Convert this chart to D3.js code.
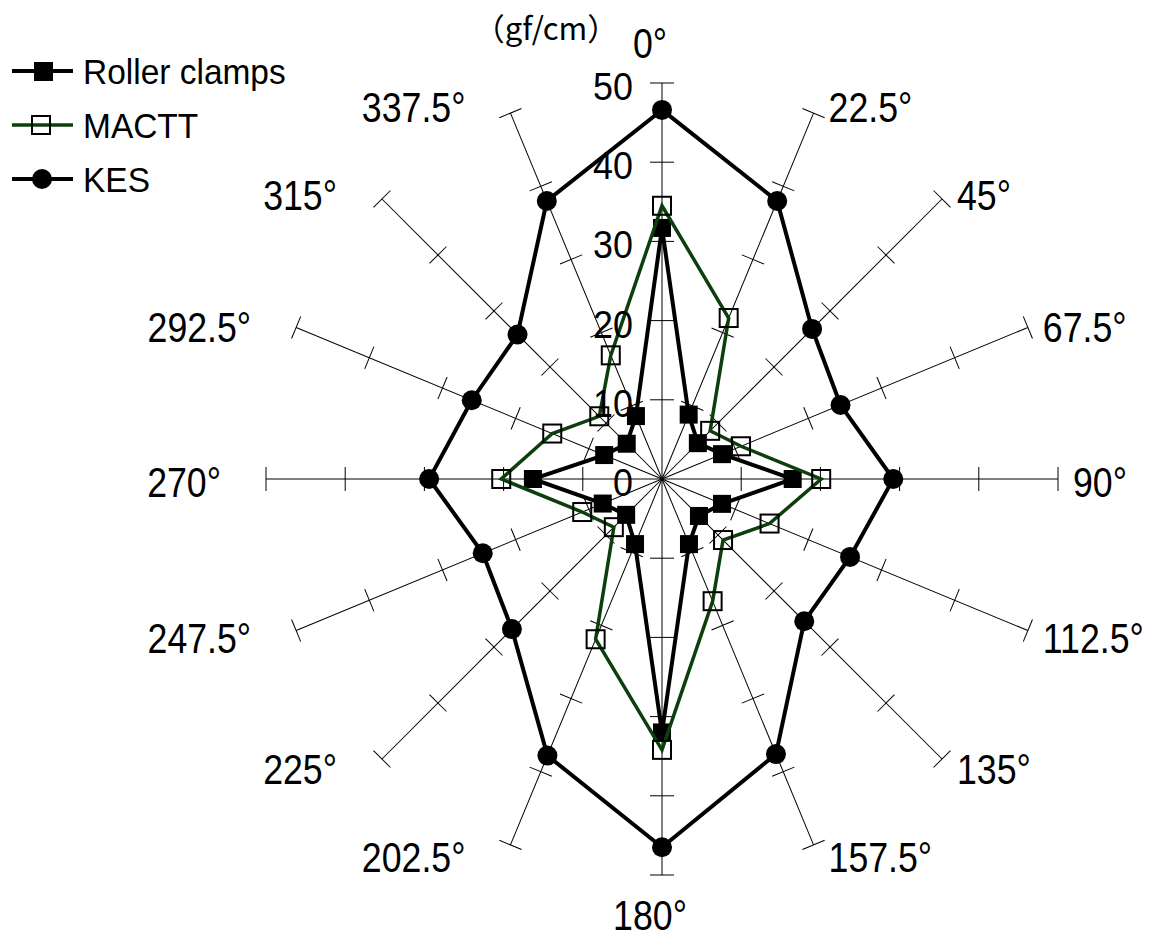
<!DOCTYPE html>
<html>
<head>
<meta charset="utf-8">
<script src="https://cdn.jsdelivr.net/npm/d3@7"></script>
<style>
  html, body { margin: 0; padding: 0; background: #fff; }
  svg text { font-family: "Liberation Sans", Arial, sans-serif; fill: #000; }
</style>
</head>
<body>
<svg id="chart" width="1161" height="938"></svg>
<script>
// Direction categories (degrees, clockwise from top)
const directions = ["0°", "22.5°", "45°", "67.5°", "90°", "112.5°", "135°", "157.5°",
                    "180°", "202.5°", "225°", "247.5°", "270°", "292.5°", "315°", "337.5°"];
// Series values (gf/cm)
const rollerClamps = [31.7, 8.8, 6.4, 8.2, 16.5, 8.2, 6.6, 8.9, 32.0, 8.9, 6.4, 8.1, 16.3, 7.9, 6.3, 8.6];
const mactt        = [34.5, 22.0, 8.6, 10.8, 20.1, 14.7, 10.9, 16.7, 34.2, 21.9, 8.6, 10.9, 20.3, 15.0, 11.2, 16.9];
const kes          = [46.6, 38.0, 26.8, 24.4, 29.2, 25.7, 25.4, 37.6, 46.5, 37.8, 26.8, 24.5, 29.4, 26.0, 25.8, 38.0];
// Radial tick values
const radialTicks = [0, 10, 20, 30, 40, 50];
const seriesNames = ["Roller clamps", "MACTT", "KES"];
const unitLabel = "（gf/cm）";

const svg = d3.select("#chart");
const cx = 662, cy = 479, R = 396;
const green = "#0d3f0d";

const r = d3.scaleLinear().domain([0, 50]).range([0, R]);
const angle = d3.scalePoint().domain(d3.range(directions.length + 1))
  .range([0, 2 * Math.PI]);
const a = i => angle(i);

const g = svg.append("g").attr("transform", `translate(${cx},${cy})`);

// Narrow text helper: places a label and squeezes it horizontally
function label(parent, x, y, txt, size, anchor, sx) {
  return parent.append("text")
    .attr("transform", `translate(${x},${y}) scale(${sx},1)`)
    .attr("dy", "0.36em").attr("text-anchor", anchor)
    .attr("font-size", size).text(txt);
}

// Spokes with perpendicular tick marks
const spokes = g.append("g");
directions.forEach((d, i) => {
  const th = a(i);
  const sg = spokes.append("g").attr("transform", `rotate(${th * 180 / Math.PI})`);
  sg.append("line")
    .attr("x1", 0).attr("y1", 0).attr("x2", 0).attr("y2", -r(50))
    .attr("stroke", "#000").attr("stroke-width", 1);
  sg.selectAll("line.tick").data(radialTicks.filter(t => t > 0)).enter()
    .append("line").attr("class", "tick")
    .attr("x1", -12).attr("x2", 12)
    .attr("y1", t => -r(t)).attr("y2", t => -r(t))
    .attr("stroke", "#000").attr("stroke-width", 1);
});

// Direction labels
directions.forEach((d, i) => {
  const th = a(i);
  const s = Math.sin(th), c = Math.cos(th);
  const ex = r(50) * s, ey = -r(50) * c;
  let x, y, anchor;
  if (Math.abs(s) < 0.01) {
    anchor = "middle";
    x = ex - 12;
    y = c > 0 ? ey - 40 : ey + 40;
  } else if (s > 0) {
    anchor = "start"; x = ex + 15; y = ey + 3 - 10 * c;
  } else {
    anchor = "end"; x = ex - 45; y = ey + 3 - 10 * c;
  }
  label(g, x, y, d, 42, anchor, 0.85);
});

// Series polygons
const radial = vals => d3.lineRadial()
  .angle((v, i) => a(i)).radius(v => r(v))
  .curve(d3.curveLinearClosed)(vals);
const pos = (v, i) => [r(v) * Math.sin(a(i)), -r(v) * Math.cos(a(i))];

// Roller clamps
g.append("path").attr("d", radial(rollerClamps))
  .attr("fill", "none").attr("stroke", "#000").attr("stroke-width", 4);
g.selectAll("rect.rc").data(rollerClamps).enter().append("rect").attr("class", "rc")
  .attr("x", (v, i) => pos(v, i)[0] - 9).attr("y", (v, i) => pos(v, i)[1] - 9)
  .attr("width", 18).attr("height", 18).attr("fill", "#000");

// MACTT
g.append("path").attr("d", radial(mactt))
  .attr("fill", "none").attr("stroke", green).attr("stroke-width", 3.5);
g.selectAll("rect.mt").data(mactt).enter().append("rect").attr("class", "mt")
  .attr("x", (v, i) => pos(v, i)[0] - 9).attr("y", (v, i) => pos(v, i)[1] - 9)
  .attr("width", 18).attr("height", 18).attr("fill", "none")
  .attr("stroke", "#000").attr("stroke-width", 2);

// KES
g.append("path").attr("d", radial(kes))
  .attr("fill", "none").attr("stroke", "#000").attr("stroke-width", 4);
g.selectAll("circle.ks").data(kes).enter().append("circle").attr("class", "ks")
  .attr("cx", (v, i) => pos(v, i)[0]).attr("cy", (v, i) => pos(v, i)[1])
  .attr("r", 10).attr("fill", "#000");

// Radial value labels along the 0° spoke
radialTicks.forEach(t => label(g, -29, -r(t) + 3, t, 39, "end", 0.92));

// Unit label
svg.append("text").attr("x", 546).attr("y", 29).attr("dy", "0.36em")
  .attr("text-anchor", "middle").attr("font-size", 31)
  .style("font-family", '"Noto Sans CJK JP", sans-serif').text(unitLabel);

// Legend
const legend = svg.append("g");
const legendY = [71, 125, 179];
seriesNames.forEach((name, k) => {
  const y = legendY[k];
  legend.append("line").attr("x1", 12).attr("x2", 73).attr("y1", y).attr("y2", y)
    .attr("stroke", k === 1 ? green : "#000").attr("stroke-width", k === 1 ? 3.5 : 4);
  if (k === 0) {
    legend.append("rect").attr("x", 34).attr("y", y - 9).attr("width", 19).attr("height", 19).attr("fill", "#000");
  } else if (k === 1) {
    legend.append("rect").attr("x", 32).attr("y", y - 9).attr("width", 18).attr("height", 18)
      .attr("fill", "none").attr("stroke", "#000").attr("stroke-width", 2);
  } else {
    legend.append("circle").attr("cx", 42).attr("cy", y).attr("r", 10).attr("fill", "#000");
  }
  label(legend, 83, y, name, 36, "start", 0.93);
});
</script>
</body>
</html>
